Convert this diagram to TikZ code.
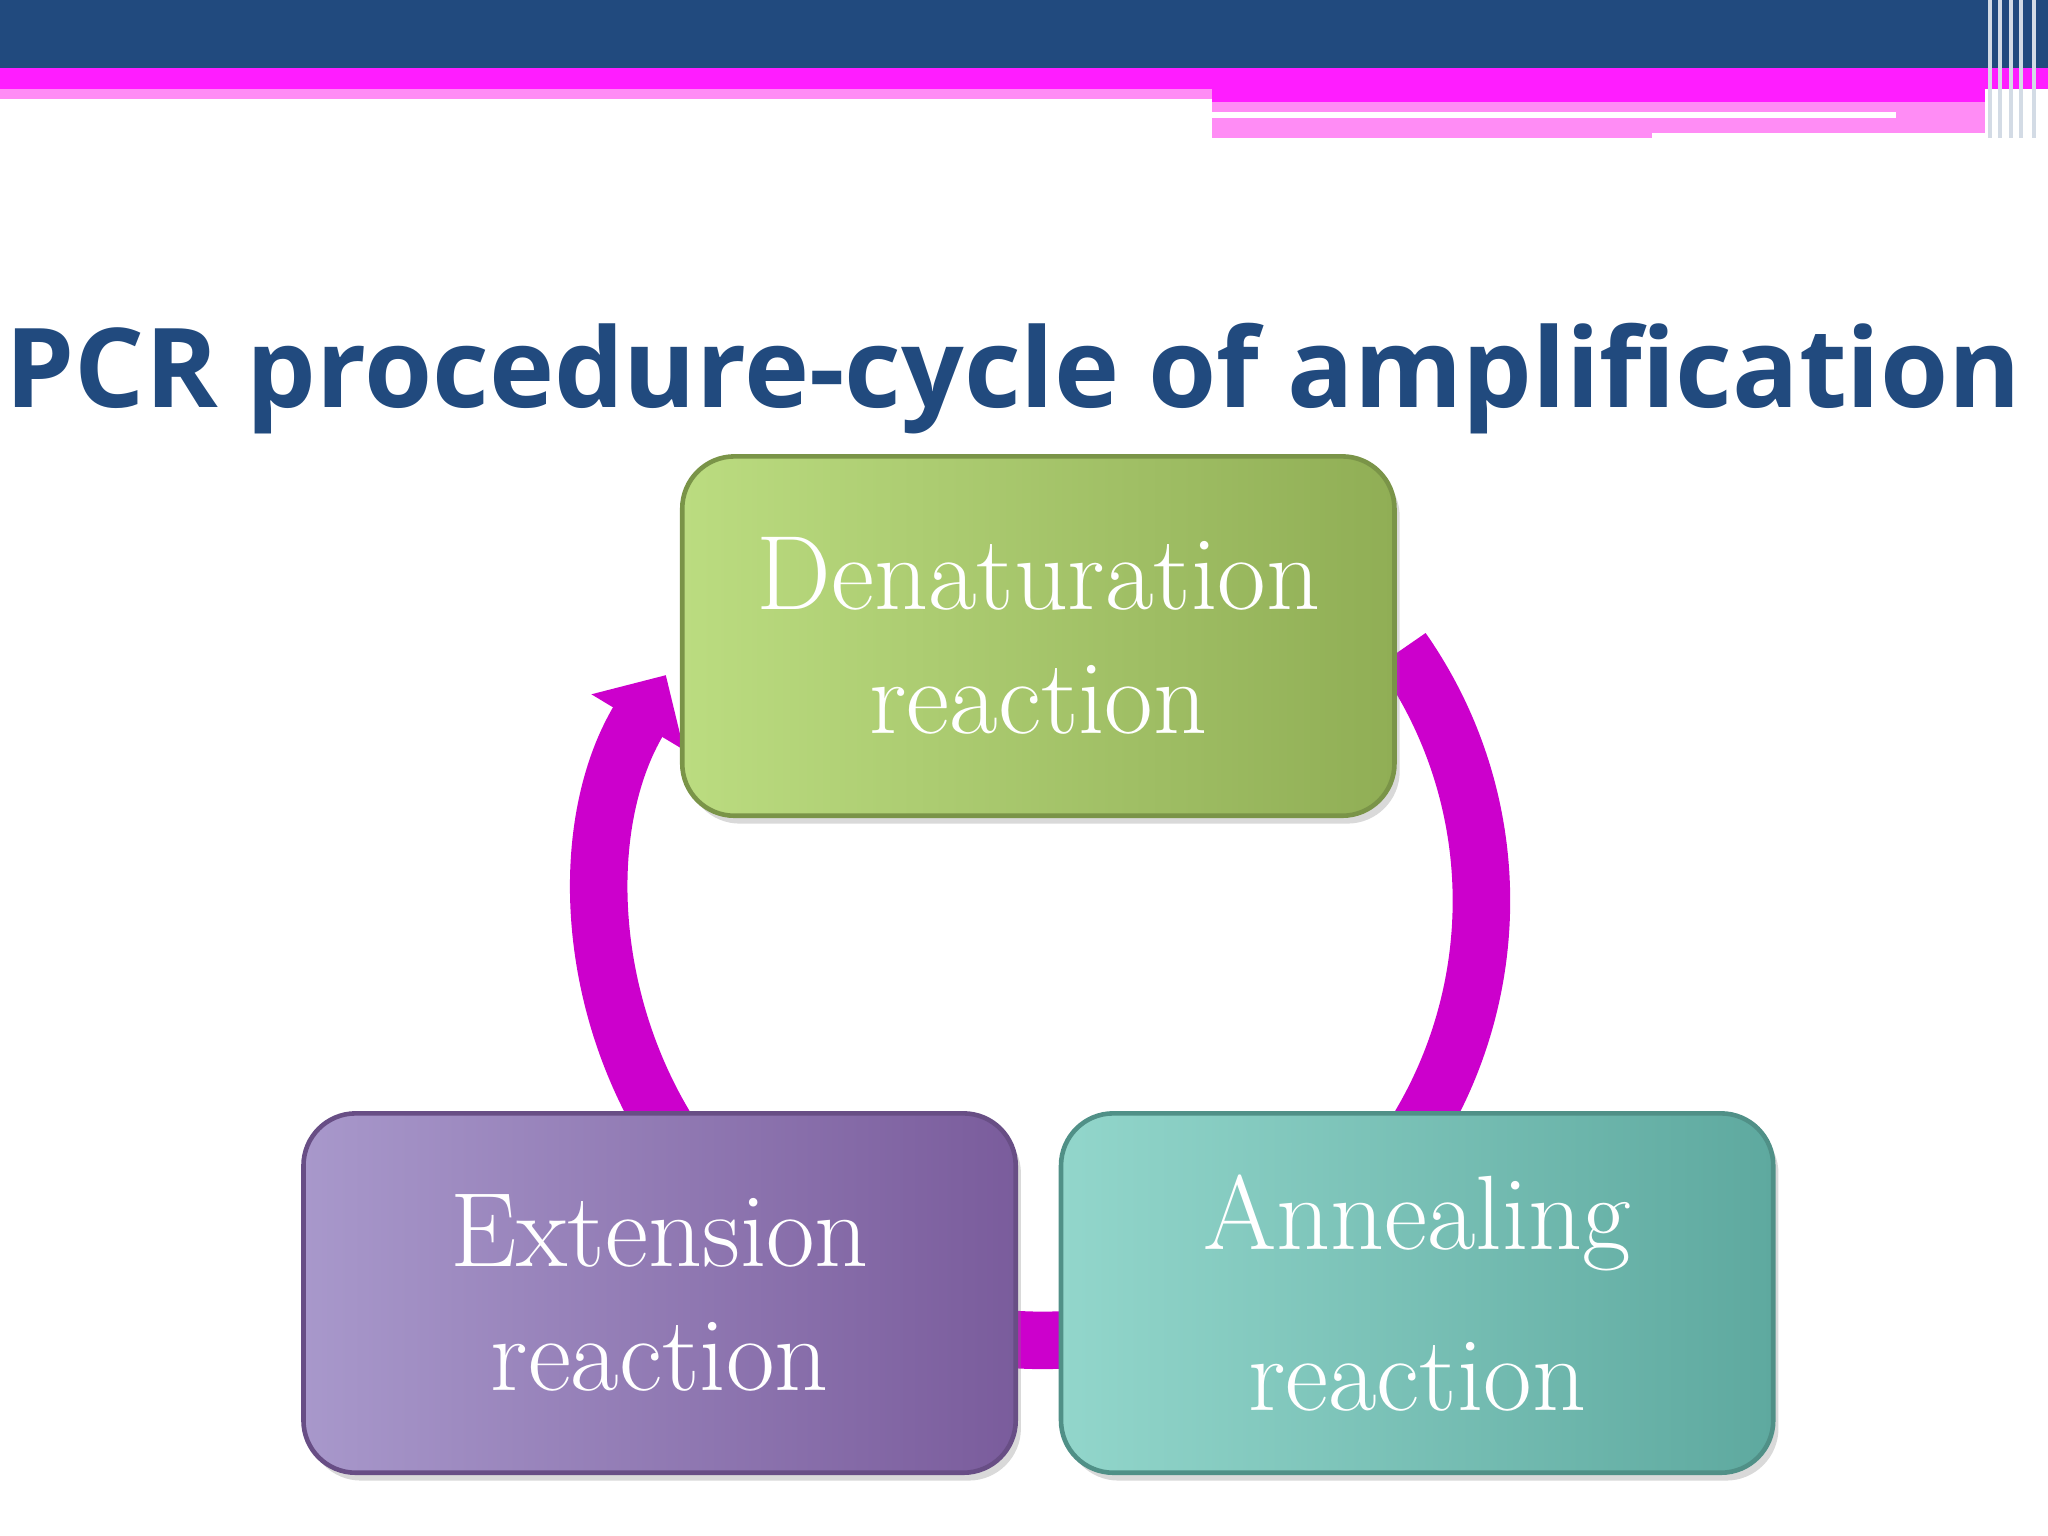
\documentclass[tikz,border=0pt]{standalone}
\usepackage{fontspec}
\newfontfamily\titlefont{Open Sans}
\usetikzlibrary{arrows.meta,shadows}
\definecolor{navy}{HTML}{214A7E}
\definecolor{hotpink}{HTML}{FF1DFF}
\definecolor{palepink}{HTML}{FF8CF5}
\definecolor{ringcol}{HTML}{CC00CC}
\definecolor{greenA}{HTML}{BBDC80}
\definecolor{greenB}{HTML}{90AE55}
\definecolor{violA}{HTML}{A898CB}
\definecolor{violB}{HTML}{7A5C9C}
\definecolor{tealA}{HTML}{92D6CB}
\definecolor{tealB}{HTML}{5EA99F}

\tikzset{
  stage/.style={rounded corners=0.4cm, minimum width=5.45cm, minimum height=2.75cm,
    text=white, align=center, font=\fontsize{23}{27}\selectfont, line width=1pt,
    shading angle=90,
    drop shadow={shadow xshift=0.04cm, shadow yshift=-0.06cm, opacity=0.3}},
  ring/.style={line width=0.44cm, ringcol}
}

\begin{document}
\begin{tikzpicture}[x=0.01cm, y=-0.01cm]
  \useasboundingbox (0,0) rectangle (1568,1176);
  % banner
  \fill[navy] (0,0) rectangle (1568,52);
  \fill[hotpink] (0,52) rectangle (1568,68);
  \fill[palepink] (0,68) rectangle (928,76);
  \fill[hotpink] (928,68) rectangle (1520,78);
  \fill[palepink] (928,78) rectangle (1520,106);
  \fill[white] (928,86) rectangle (1452,90);
  \fill[white] (1265,102) rectangle (1520,106);
  \foreach \x in {1522,1530,1538,1546,1556}
    \fill[white!80!navy] (\x,0) rectangle ++(3,106);

  \node[navy, font=\titlefont\bfseries\fontsize{24}{28}\selectfont] (title) at (776,290)
    {PCR procedure-cycle of amplification};

  % cycle
  \coordinate (ctr) at (798,690);
  \draw[ring, -{Triangle[length=0.42cm, width=0.8cm]}]
    (ctr) ++(35:3.36cm) arc[start angle=35, end angle=-211, radius=3.36cm];

  \node[stage, draw=greenB!85!black, left color=greenA, right color=greenB] (dena) at (795,487)
    {Denaturation\\reaction};
  \node[stage, draw=violB!85!black, left color=violA, right color=violB] (exte) at (505,990)
    {Extension\\reaction};
  \node[stage, draw=tealB!85!black, left color=tealA, right color=tealB] (anne) at (1085,990)
    {Annealing\\[8pt]reaction};
\end{tikzpicture}
\end{document}
